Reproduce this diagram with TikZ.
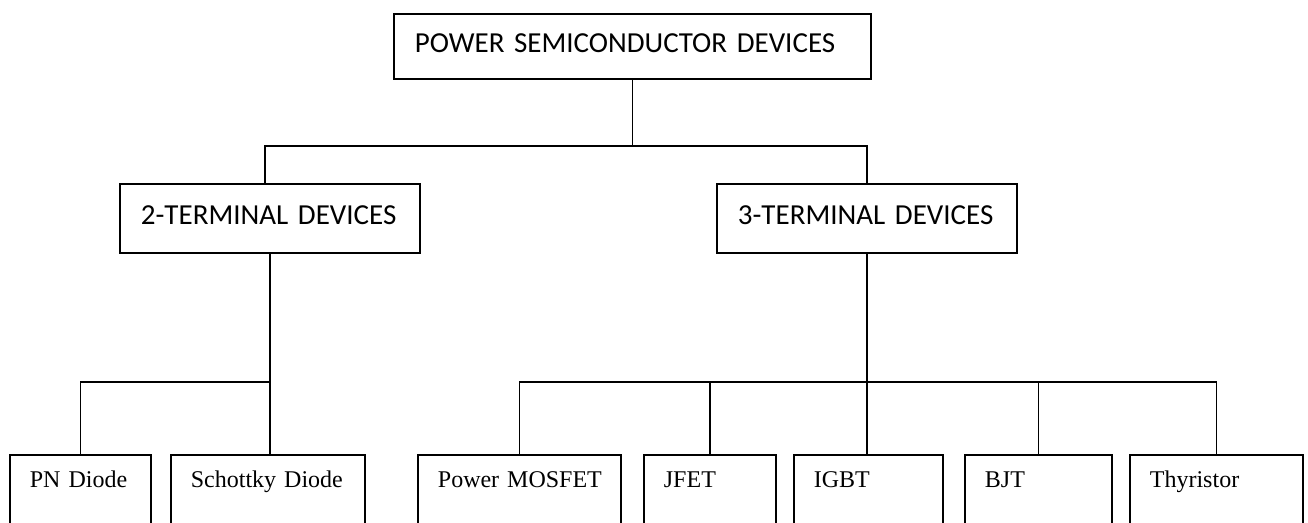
\documentclass[tikz,border=0pt]{standalone}
\usepackage{fontspec}
\setmainfont{Liberation Serif}
\newfontfamily\calibri{Carlito}
\begin{document}
\begin{tikzpicture}[x=1pt, y=-1pt, line width=1.8pt, line join=miter,
	catbox/.style={draw, anchor=north west, align=left, inner xsep=21pt, text depth=6pt, font=\calibri\fontsize{29}{34}\selectfont},
	leafbox/.style={draw, anchor=north west, align=left, inner xsep=20pt, inner ysep=16pt, text height=17pt, text depth=30pt, font=\fontsize{24}{28}\selectfont}]
	\useasboundingbox (0,0) rectangle (1308,522);
	\clip (0,0) rectangle (1308,522);
	% categories
	\node[catbox, text width=435pt, minimum height=65pt] (psd) at (393,13) {POWER~SEMICONDUCTOR~DEVICES};
	\node[catbox, text width=258pt, minimum height=69pt] (term2) at (119,183) {2-TERMINAL~DEVICES};
	\node[catbox, text width=258pt, minimum height=69pt] (term3) at (716,183) {3-TERMINAL~DEVICES};
	% devices
	\node[leafbox, text width=101pt] (pn) at (9,454) {\mbox{PN Diode}};
	\node[leafbox, text width=154pt] (schottky) at (170,454) {\mbox{Schottky Diode}};
	\node[leafbox, text width=163pt] (mosfet) at (417,454) {\mbox{Power MOSFET}};
	\node[leafbox, text width=92pt] (jfet) at (643,454) {JFET};
	\node[leafbox, text width=109pt] (igbt) at (793,454) {IGBT};
	\node[leafbox, text width=107pt] (bjt) at (964,454) {BJT};
	\node[leafbox, text width=133pt] (thyristor) at (1129,454) {Thyristor};
	% connectors
	\coordinate (bus1) at (0,146);
	\coordinate (bus2) at (0,382);
	\draw (psd.south) -- (psd.south |- bus1);
	\draw ([xshift=-5pt]term2.north) -- ([xshift=-5pt]term2.north |- bus1) -- (term3.north |- bus1) -- (term3.north);
	\draw (term2.south) -- (term2.south |- schottky.north);
	\draw (pn.north) -- (pn.north |- bus2) -- (term2.south |- bus2);
	\draw (term3.south) -- (term3.south |- igbt.north);
	\draw (mosfet.north) -- (mosfet.north |- bus2) -- (thyristor.north |- bus2) -- (thyristor.north);
	\draw (jfet.north) -- (jfet.north |- bus2);
	\draw (bjt.north) -- (bjt.north |- bus2);
\end{tikzpicture}
\end{document}
